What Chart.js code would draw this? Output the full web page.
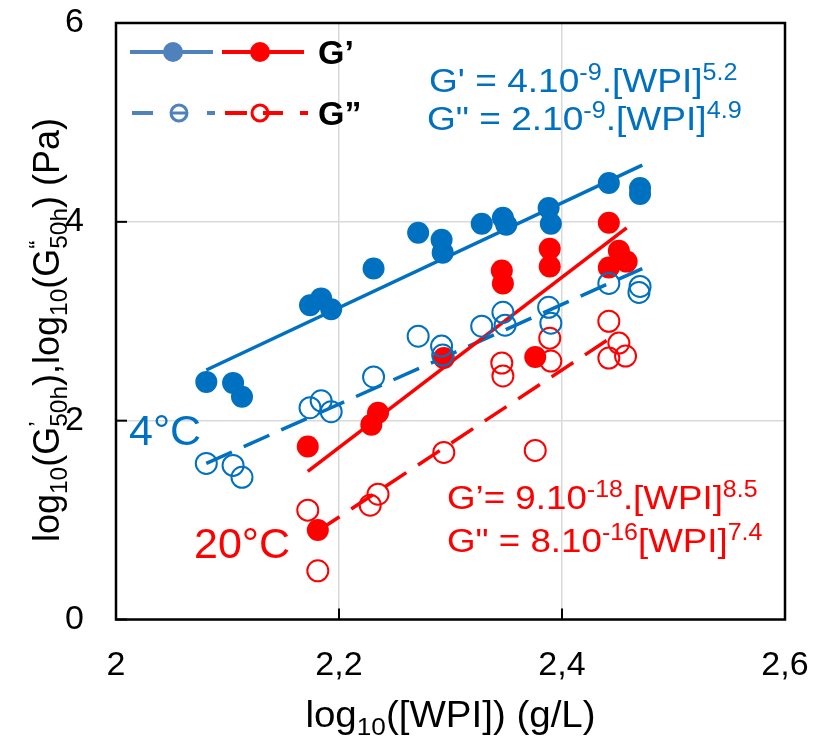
<!DOCTYPE html>
<html>
<head>
<meta charset="utf-8">
<script src="https://cdn.jsdelivr.net/npm/chart.js@4.4.1/dist/chart.umd.min.js"></script>
<style>
    html, body { margin: 0; padding: 0; background: #ffffff; }
</style>
</head>
<body>
<canvas id="gelChart" width="826" height="738"></canvas>
<script>
// Data: log10 of WPI concentration vs log10 of moduli.
var g1Cold = [
    [2.081, 2.39], [2.105, 2.38], [2.113, 2.24], [2.174, 3.16], [2.184, 3.23],
    [2.193, 3.12], [2.231, 3.53], [2.271, 3.89], [2.292, 3.82], [2.293, 3.69],
    [2.328, 3.98], [2.347, 4.04], [2.350, 3.97], [2.388, 4.14], [2.390, 3.98],
    [2.442, 4.39], [2.470, 4.34], [2.470, 4.28]
];
var g2Cold = [
    [2.081, 1.57], [2.105, 1.55], [2.113, 1.43], [2.174, 2.13], [2.184, 2.20],
    [2.193, 2.09], [2.231, 2.44], [2.271, 2.85], [2.292, 2.75], [2.293, 2.66],
    [2.328, 2.95], [2.347, 3.09], [2.349, 2.96], [2.388, 3.14], [2.390, 2.98],
    [2.442, 3.38], [2.470, 3.35], [2.469, 3.29]
];
var g1Warm = [
    [2.172, 1.74], [2.181, 0.90], [2.229, 1.96], [2.235, 2.08], [2.294, 2.63],
    [2.346, 3.51], [2.347, 3.38], [2.376, 2.64], [2.389, 3.73], [2.389, 3.55],
    [2.442, 3.99], [2.451, 3.71], [2.458, 3.60], [2.442, 3.54]
];
var g2Warm = [
    [2.172, 1.10], [2.181, 0.49], [2.228, 1.15], [2.235, 1.26], [2.294, 1.68],
    [2.346, 2.58], [2.347, 2.45], [2.376, 1.70], [2.389, 2.83], [2.390, 2.60],
    [2.442, 3.00], [2.451, 2.78], [2.457, 2.65], [2.442, 2.63]
];

// Power-law fit lines (end points).
var fitG1Cold = [[2.081, 2.51], [2.472, 4.57]];
var fitG2Cold = [[2.081, 1.57], [2.472, 3.53]];
var fitG1Warm = [[2.172, 1.49], [2.458, 3.94]];
var fitG2Warm = [[2.181, 0.89], [2.446, 2.85]];

// Axis ticks.
var xTicks = [2, 2.2, 2.4, 2.6];
var yTicks = [0, 2, 4, 6];

// Text in the figure.
var eqCold = [
    [{t: "G' = 4.10"}, {t: "-9", sup: true}, {t: ".[WPI]"}, {t: "5.2", sup: true}],
    [{t: 'G" = 2.10'}, {t: "-9", sup: true}, {t: ".[WPI]"}, {t: "4.9", sup: true}]
];
var eqWarm = [
    [{t: "G\u2019= 9.10"}, {t: "-18", sup: true}, {t: ".[WPI]"}, {t: "8.5", sup: true}],
    [{t: 'G" = 8.10'}, {t: "-16", sup: true}, {t: "[WPI]"}, {t: "7.4", sup: true}]
];
var xTitle = [{t: "log"}, {t: "10", sub: true}, {t: "([WPI]) (g/L)"}];
var yTitle = [
    {t: "log"}, {t: "10", sub: true}, {t: "(G"}, {t: "\u2019", sup: true, hold: true},
    {t: "50h", sub: true}, {t: "),log"}, {t: "10", sub: true}, {t: "(G"},
    {t: "\u201C", sup: true, hold: true}, {t: "50h", sub: true}, {t: ") (Pa)"}
];

var FONT = '"Liberation Sans", Arial, sans-serif';
var BLUE = "#0070C0";
var RED = "#FF0000";
var LEGEND_BLUE = "#4F81BD";

function toPoints(arr) {
    return arr.map(function (p) { return {x: p[0], y: p[1]}; });
}

function formatTick(value) {
    return String(Number(value.toFixed(1))).replace(".", ",");
}

// Measure / draw text with sub- and superscripts.
function partFont(p, size, weight) {
    var s = (p.sup || p.sub) ? size * 0.68 : size;
    return (weight || "normal") + " " + s + "px " + FONT;
}

function richWidth(ctx, parts, size, weight) {
    var w = 0;
    parts.forEach(function (p) {
        ctx.font = partFont(p, size, weight);
        if (!p.hold) {
            w += ctx.measureText(p.t).width;
        }
    });
    return w;
}

// stretch widens the text horizontally, like the source figure does.
function drawRich(ctx, parts, x, y, size, color, weight, stretch) {
    var k = stretch || 1;
    ctx.save();
    ctx.translate(x, y);
    ctx.scale(k, 1);
    ctx.fillStyle = color;
    ctx.textAlign = "left";
    ctx.textBaseline = "alphabetic";
    var cx = 0;
    parts.forEach(function (p) {
        var dy = p.sup ? -size * 0.36 : (p.sub ? size * 0.22 : 0);
        ctx.font = partFont(p, size, weight);
        ctx.fillText(p.t, cx, dy);
        if (!p.hold) {
            cx += ctx.measureText(p.t).width;
        }
    });
    ctx.restore();
}

function dot(ctx, x, y, r, color, filled, lw) {
    ctx.beginPath();
    ctx.arc(x, y, r, 0, Math.PI * 2);
    if (filled) {
        ctx.fillStyle = color;
        ctx.fill();
    } else {
        ctx.lineWidth = lw;
        ctx.strokeStyle = color;
        ctx.stroke();
    }
}

function seg(ctx, x1, x2, y, color, lw) {
    ctx.beginPath();
    ctx.moveTo(x1, y);
    ctx.lineTo(x2, y);
    ctx.lineWidth = lw;
    ctx.strokeStyle = color;
    ctx.stroke();
}

// Frame, inner ticks, titles, legend and annotations.
var decorPlugin = {
    id: "decor",
    afterDraw: function (chart) {
        var ctx = chart.ctx;
        var area = chart.chartArea;
        var xs = chart.scales.x;
        var ys = chart.scales.y;
        ctx.save();

        // plot frame
        ctx.lineWidth = 2.5;
        ctx.strokeStyle = "#000000";
        ctx.strokeRect(area.left, area.top, area.right - area.left, area.bottom - area.top);

        // inward tick marks on left and bottom
        yTicks.forEach(function (v) {
            seg(ctx, area.left, area.left + 11, ys.getPixelForValue(v), "#000000", 2);
        });
        ctx.lineWidth = 2;
        xTicks.forEach(function (v) {
            var px = xs.getPixelForValue(v);
            ctx.beginPath();
            ctx.moveTo(px, area.bottom);
            ctx.lineTo(px, area.bottom - 11);
            ctx.stroke();
        });

        // axis titles
        var k = 1.07;
        var xw = richWidth(ctx, xTitle, 36) * k;
        drawRich(ctx, xTitle, (area.left + area.right) / 2 - xw / 2, 727, 36, "#000000", null, k);
        var yw = richWidth(ctx, yTitle, 36);
        ctx.save();
        ctx.translate(59, 330);
        ctx.rotate(-Math.PI / 2);
        drawRich(ctx, yTitle, -yw / 2, 0, 36, "#000000");
        ctx.restore();

        // legend
        seg(ctx, 130, 213, 52, LEGEND_BLUE, 4);
        dot(ctx, 173, 52, 10, LEGEND_BLUE, true);
        seg(ctx, 222, 304, 52, RED, 4);
        dot(ctx, 260, 52, 10, RED, true);
        drawRich(ctx, [{t: "G\u2019"}], 318, 64, 34, "#000000", "bold");

        seg(ctx, 132, 153, 113, LEGEND_BLUE, 4);
        dot(ctx, 179, 113, 8, LEGEND_BLUE, false, 3);
        seg(ctx, 171, 187, 113, LEGEND_BLUE, 3);
        seg(ctx, 207, 215, 113, LEGEND_BLUE, 4);
        seg(ctx, 225, 247, 113, RED, 4);
        dot(ctx, 260, 113, 8, RED, false, 3);
        seg(ctx, 263, 283, 113, RED, 4);
        seg(ctx, 300, 308, 113, RED, 4);
        drawRich(ctx, [{t: "G\u201D"}], 318, 125, 34, "#000000", "bold");

        // fit equations and temperature labels
        drawRich(ctx, eqCold[0], 429, 92, 34, BLUE, null, 1.09);
        drawRich(ctx, eqCold[1], 427, 130, 34, BLUE, null, 1.09);
        drawRich(ctx, eqWarm[0], 447, 509, 34, RED, null, 1.08);
        drawRich(ctx, eqWarm[1], 447, 552, 34, RED, null, 1.08);
        drawRich(ctx, [{t: "4\u00B0C"}], 129, 445, 43, BLUE);
        drawRich(ctx, [{t: "20\u00B0C"}], 194, 558, 43, RED);

        ctx.restore();
    }
};

function fitLine(data, color, dash, order) {
    return {
        data: toPoints(data),
        showLine: true,
        borderColor: color,
        borderWidth: 3.5,
        borderDash: dash,
        pointRadius: 0,
        fill: false,
        order: order
    };
}

function pointSet(data, color, filled, order) {
    return {
        data: toPoints(data),
        showLine: false,
        pointRadius: filled ? 11 : 10.5,
        pointBackgroundColor: filled ? color : "rgba(0,0,0,0)",
        pointBorderColor: color,
        pointBorderWidth: filled ? 0 : 2,
        order: order
    };
}

var ctx = document.getElementById("gelChart").getContext("2d");
new Chart(ctx, {
    type: "scatter",
    data: {
        datasets: [
            fitLine(fitG2Warm, RED, [26, 14], 8),
            fitLine(fitG2Cold, BLUE, [28, 13], 7),
            fitLine(fitG1Warm, RED, [], 6),
            fitLine(fitG1Cold, BLUE, [], 5),
            pointSet(g2Warm, RED, false, 4),
            pointSet(g1Warm, RED, true, 3),
            pointSet(g1Cold, BLUE, true, 2),
            pointSet(g2Cold, BLUE, false, 1)
        ]
    },
    options: {
        responsive: false,
        animation: false,
        devicePixelRatio: 1,
        events: [],
        layout: {padding: {top: 23, right: 41, left: 0, bottom: 0}},
        plugins: {
            legend: {display: false},
            tooltip: {enabled: false}
        },
        scales: {
            x: {
                type: "linear",
                min: 2,
                max: 2.6,
                afterBuildTicks: function (scale) {
                    scale.ticks = xTicks.map(function (v) { return {value: v}; });
                },
                afterFit: function (scale) {
                    scale.height = 118.5;
                    scale.paddingLeft = 0;
                    scale.paddingRight = 0;
                },
                grid: {color: "#d9d9d9", lineWidth: 1.5, drawTicks: false},
                border: {display: false},
                ticks: {
                    color: "#000000",
                    font: {family: FONT, size: 34},
                    padding: 26,
                    maxRotation: 0,
                    callback: function (value) { return formatTick(value); }
                }
            },
            y: {
                min: 0,
                max: 6,
                afterBuildTicks: function (scale) {
                    scale.ticks = yTicks.map(function (v) { return {value: v}; });
                },
                afterFit: function (scale) {
                    scale.width = 116;
                    scale.paddingTop = 0;
                    scale.paddingBottom = 0;
                },
                grid: {color: "#d9d9d9", lineWidth: 1.5, drawTicks: false},
                border: {display: false},
                ticks: {
                    color: "#000000",
                    font: {family: FONT, size: 34},
                    padding: 32,
                    callback: function (value) { return formatTick(value); }
                }
            }
        }
    },
    plugins: [decorPlugin]
});
</script>
</body>
</html>
